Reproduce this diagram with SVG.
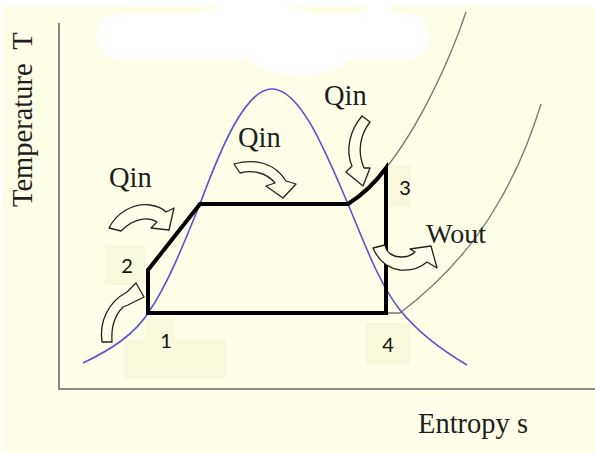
<svg xmlns="http://www.w3.org/2000/svg" width="595" height="453" viewBox="0 0 595 453">
<style>
.serif{font-family:"Liberation Serif","Times New Roman",serif;fill:#1e1e1e}
.num{font-family:Lato,"Liberation Sans",sans-serif;font-size:20px;fill:#111;text-anchor:middle}
.box{fill:#f8f8dc}
.arr{fill:#fefee9;stroke:#222;stroke-width:1.3;stroke-linejoin:round}
.iso{fill:none;stroke:#7a7570;stroke-width:1.3}
.axis{fill:none;stroke:#6b6b6b;stroke-width:1.6}
</style>
<rect x="0" y="0" width="595" height="453" fill="#ffffff"/>
<rect x="2" y="6" width="593" height="447" fill="#fefee9"/>
<g id="blob" fill="#ffffff">
<rect x="97" y="14" width="332" height="45" rx="22"/>
<ellipse cx="255" cy="22" rx="65" ry="17"/>
<ellipse cx="378" cy="20" rx="19" ry="15"/>
<ellipse cx="300" cy="55" rx="50" ry="20"/>
<ellipse cx="282" cy="62" rx="16" ry="12"/>
</g>
<g id="label-boxes">
<rect class="box" x="105" y="245" width="40" height="40"/>
<rect class="box" x="145" y="319" width="30" height="21"/>
<rect class="box" x="124" y="340" width="102" height="38"/>
<rect class="box" x="366" y="323" width="44" height="41"/>
<rect class="box" x="388" y="165" width="23" height="42"/>
</g>
<g id="axes">
<polyline class="axis" points="59,23 59,389 595,389"/>
</g>
<g id="isobars">
<path class="iso" d="M466,12 C450,60 420,125 386,168"/>
<path class="iso" d="M541,104 C530,140 515,175 497,205 C478,238 450,275 400,313 L386,313"/>
</g>
<g id="dome">
<path fill="none" stroke="#5f50cf" stroke-width="1.6" d="M83,363 C110,350 135,335 150,310 C170,280 185,240 200,204 C220,150 245,89 272,89 C300,89 325,150 348,204 C365,245 380,285 400,310 C420,335 445,352 467,365"/>
</g>
<g id="cycle">
<path fill="none" stroke="#000" stroke-width="4" stroke-linejoin="miter" d="M148,313 L148,270 L200,204 L348,204 Q370,190 386,168 L386,313 Z"/>
</g>
<g id="arrows">
<path class="arr" d="M109,228 C117,212 134,203 150,205 C158,206 163,209 166,212 L174,208 L169,230 L151,228 L157,222 C149,217 135,217 121,231 Z"/>
<path class="arr" d="M102,342 C99,322 108,302 127,292 L136,283 L144,297 L128,305 L123,307 C115,315 111,328 112,342 Z"/>
<path class="arr" d="M234,164 C255,158 275,163 286,181 L296,184 L283,198 L266,186 L275,183 C266,172 252,170 240,173 Z"/>
<path class="arr" d="M362,116 C350,130 345,150 352,166 L346,172 L363,186 L370,168 L364,168 C357,152 360,135 370,122 Z"/>
<path class="arr" d="M373,248 L385,245 C386,252 392,257 402,257 C408,257 412,255 415,252 L410,249 L431,246 L437,268 L427,262 C420,268 410,271 400,270 C387,268 378,260 373,248 Z"/>
</g>
<g id="labels">
<text class="serif" font-size="28.5" x="109" y="187">Qin</text>
<text class="serif" font-size="28.5" x="238" y="147">Qin</text>
<text class="serif" font-size="28.5" x="324" y="105">Qin</text>
<text class="serif" font-size="28" x="426" y="243">Wout</text>
<text class="serif" font-size="28.5" x="418" y="433">Entropy s</text>
<text class="serif" font-size="28.5" xml:space="preserve" transform="translate(32,207) rotate(-90)">Temperature  T</text>
<text class="num" x="127" y="273">2</text>
<text class="num" x="166" y="348">1</text>
<text class="num" x="405" y="195">3</text>
<text class="num" x="388" y="352">4</text>
</g>
</svg>
